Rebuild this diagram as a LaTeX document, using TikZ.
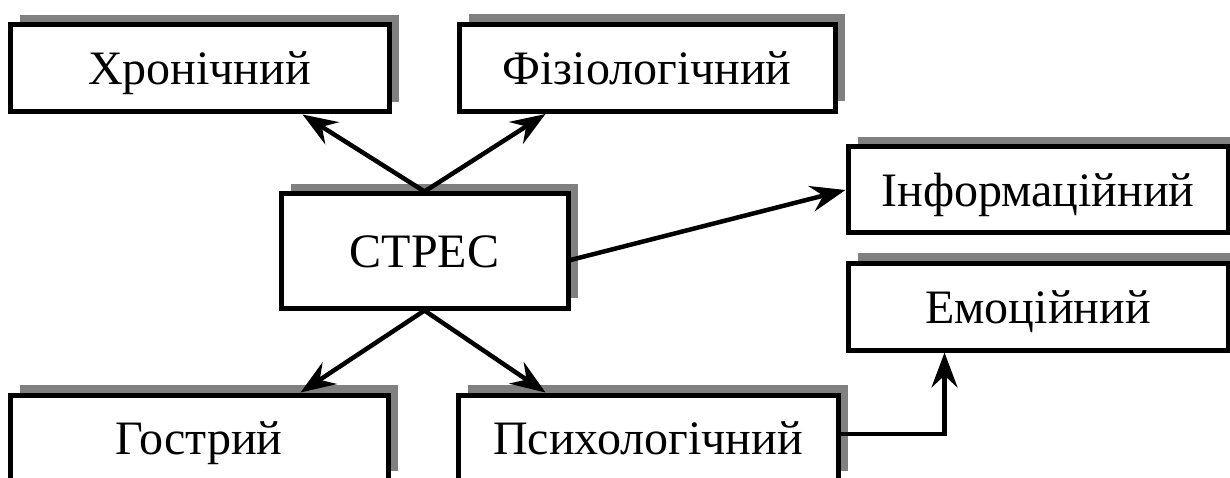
\documentclass[tikz,border=0pt]{standalone}
\usepackage{fontspec}
\setmainfont{Liberation Serif}
\usetikzlibrary{arrows.meta,shadows}

\begin{document}
\begin{tikzpicture}[x=1pt,y=-1pt,
    bx/.style={draw,line width=5pt,fill=white,inner sep=0pt,
               minimum height=87pt,font=\fontsize{48}{52}\selectfont,
               text height=33pt,text depth=0pt,
               drop shadow={shadow xshift=10pt,shadow yshift=10pt,
                            fill=black!50,opacity=1}},
    arr/.style={line width=4.5pt,-{Stealth[length=35pt,width=26pt,inset=12pt]}}
  ]
  \useasboundingbox (0,0) rectangle (1230,478);
  \clip (0,0) rectangle (1230,478);

  \node[bx,minimum width=379pt] (chron) at (199.5,68.5) {Хронічний};
  \node[bx,minimum width=376pt] (phys) at (647,68) {Фізіологічний};
  \node[bx,minimum width=287pt,minimum height=114pt] (stres) at (424.5,251) {СТРЕС};
  \node[bx,minimum width=380pt,minimum height=86pt] (info) at (1038,190) {Інформаційний};
  \node[bx,minimum width=380pt] (emo) at (1038,306.5) {Емоційний};
  \node[bx,minimum width=378pt,minimum height=86pt] (gostr) at (199,438) {Гострий};
  \node[bx,minimum width=380pt,minimum height=86pt] (psych) at (648,438) {Психологічний};

  \draw[arr] (stres.north) -- ([xshift=-89pt]chron.south east);
  \draw[arr] (stres.north) -- ([xshift=89pt]phys.south west);
  \draw[arr] (stres.south) -- ([xshift=-90pt]gostr.north east);
  \draw[arr] (stres.south) -- ([xshift=90pt]psych.north west);
  \draw[arr] ([yshift=-9pt]stres.east) -- (info.west);
  \draw[arr] ([yshift=4pt]psych.east) -| ([xshift=99pt]emo.south west);
\end{tikzpicture}
\end{document}
